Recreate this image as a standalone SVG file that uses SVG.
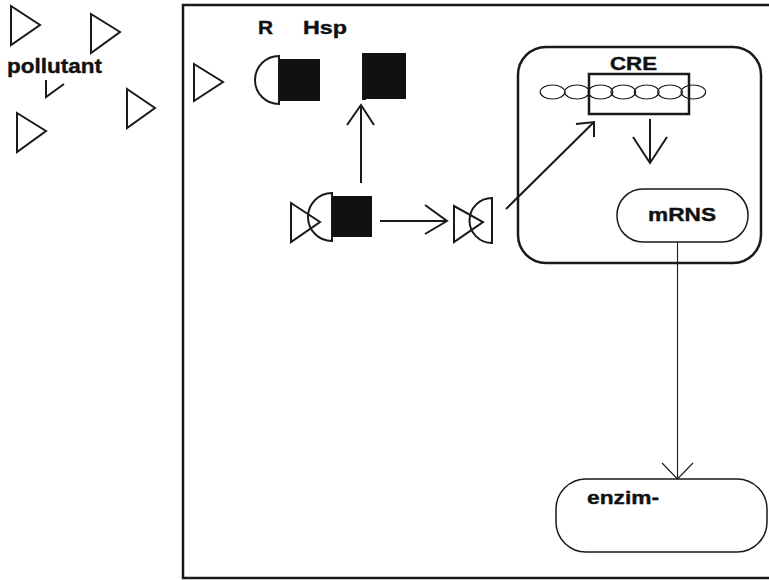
<svg xmlns="http://www.w3.org/2000/svg" width="769" height="580" viewBox="0 0 769 580">
  <style>
    .ln { fill: none; stroke: #1a1a1a; stroke-width: 2; stroke-linejoin: miter; }
    .thick { fill: none; stroke: #1a1a1a; stroke-width: 2.5; }
    .thin { fill: none; stroke: #1a1a1a; stroke-width: 1.5; }
    .solid { fill: #111; stroke: none; }
    .lbl { font-family: "Liberation Sans", Arial, sans-serif; font-weight: bold; fill: #111; stroke: #111; stroke-width: 0.4; }
  </style>
  <rect width="769" height="580" fill="#fff"/>

  <!-- cell boundary -->
  <g id="cell">
    <rect class="thick" x="183" y="5" width="620" height="573"/>
  </g>

  <!-- free pollutant molecules -->
  <g id="pollutants">
    <polygon class="ln" points="11,6 40,25 11,45"/>
    <polygon class="ln" points="91,14 120,32 91,53"/>
    <polygon class="ln" points="127,89 155,108 127,128"/>
    <polygon class="ln" points="17,113 46,131 17,152"/>
    <polyline class="ln" points="46,80 46,97 64,84"/>
    <text class="lbl" x="7" y="73" font-size="21" textLength="95" lengthAdjust="spacingAndGlyphs">pollutant</text>
  </g>

  <!-- pollutant inside the cell -->
  <g id="pollutant-in">
    <polygon class="ln" points="194,64 223,82 194,101"/>
  </g>

  <!-- receptor with Hsp bound -->
  <g id="receptor">
    <text class="lbl" x="258" y="34" font-size="18.5" textLength="15" lengthAdjust="spacingAndGlyphs">R</text>
    <path class="ln" d="M279 56 A24 24 0 0 0 279 104 Z"/>
    <rect class="solid" x="279" y="59" width="41" height="42"/>
  </g>

  <!-- released Hsp -->
  <g id="hsp">
    <text class="lbl" x="303" y="34" font-size="18.5" textLength="44" lengthAdjust="spacingAndGlyphs">Hsp</text>
    <path class="ln" d="M366 54 H363 V99 H366"/>
    <rect class="solid" x="363" y="53" width="43" height="46"/>
  </g>

  <!-- pollutant-receptor-Hsp complex -->
  <g id="complex">
    <polygon class="ln" points="291,203 320,222 291,242"/>
    <path class="ln" d="M332 193 A24 24 0 0 0 332 241 Z"/>
    <rect class="solid" x="332" y="196" width="40" height="41"/>
  </g>

  <!-- pollutant-receptor complex -->
  <g id="ligand-receptor">
    <polygon class="ln" points="454,206 483,222 454,242"/>
    <path class="ln" d="M492 198 A22.5 22.5 0 0 0 492 243 Z"/>
  </g>

  <!-- nucleus -->
  <g id="nucleus">
    <rect class="thick" x="518" y="47" width="243" height="216" rx="28"/>
  </g>

  <!-- DNA with response element -->
  <g id="cre">
    <g class="thin" style="stroke-width:1.2">
      <ellipse cx="552.5" cy="92" rx="12.3" ry="7"/>
      <ellipse cx="577" cy="92" rx="12.3" ry="7"/>
      <ellipse cx="600.5" cy="92" rx="12.3" ry="7"/>
      <ellipse cx="623.3" cy="92" rx="12.3" ry="7"/>
      <ellipse cx="646.7" cy="92" rx="12.3" ry="7"/>
      <ellipse cx="670" cy="92" rx="12.3" ry="7"/>
      <ellipse cx="693.3" cy="92" rx="12.3" ry="7"/>
    </g>
    <rect class="thick" x="589" y="74" width="100" height="40"/>
    <text class="lbl" x="610" y="70" font-size="19" textLength="47" lengthAdjust="spacingAndGlyphs">CRE</text>
  </g>

  <!-- transcript -->
  <g id="mrns">
    <rect class="thin" x="617" y="189" width="131" height="53" rx="26"/>
    <text class="lbl" x="648" y="221" font-size="19" textLength="68" lengthAdjust="spacingAndGlyphs">mRNS</text>
  </g>

  <!-- enzyme -->
  <g id="enzim">
    <rect class="thin" x="556" y="479" width="211" height="73" rx="30"/>
    <text class="lbl" x="587" y="504" font-size="19" textLength="72" lengthAdjust="spacingAndGlyphs">enzim-</text>
  </g>

  <!-- connectors -->
  <g id="connectors">
    <line class="ln" x1="361" y1="183" x2="361" y2="106"/>
    <polyline class="ln" points="347,125 361,105 374,125"/>

    <line class="ln" x1="380" y1="221" x2="446" y2="221"/>
    <polyline class="ln" points="425,205 447,221 425,234"/>

    <line class="ln" x1="506" y1="209" x2="593" y2="123"/>
    <polyline class="ln" points="576,124 594,122 594,137"/>

    <line class="ln" x1="650" y1="119" x2="650" y2="162"/>
    <polyline class="ln" points="633,137 650,163 667,137"/>

    <line class="thin" style="stroke-width:1.1" x1="677.5" y1="242" x2="677.5" y2="478"/>
    <polyline class="thin" style="stroke-width:1.1" points="662,463 677.5,479 693,463"/>
  </g>
</svg>
